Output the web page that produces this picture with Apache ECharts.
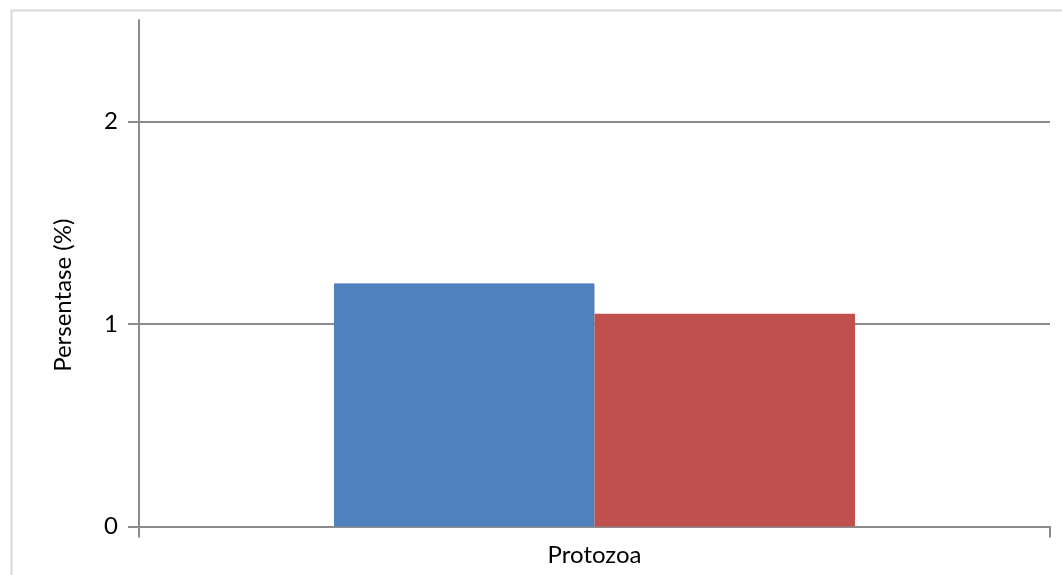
<!DOCTYPE html>
<html>
<head>
<meta charset="utf-8">
<script src="https://cdn.jsdelivr.net/npm/echarts@6/dist/echarts.min.js"></script>
<style>
html,body{margin:0;padding:0;background:#fff;}
#chart{width:1062px;height:575px;}
</style>
</head>
<body>
<div id="chart"></div>
<script>
const categories = ['Protozoa'];
const seriesA = [1.2];
const seriesB = [1.05];
const yTicks = [0, 1, 2];

const chart = echarts.init(document.getElementById('chart'));
const axisColor = '#8c8c8c';
chart.setOption({
  animation: false,
  textStyle: { fontFamily: 'Lato' },
  graphic: [{
    type: 'rect', left: 9, top: 8, shape: { width: 1100, height: 620 },
    style: { fill: 'none', stroke: '#d9d9d9', lineWidth: 2 }, silent: true, z: -10
  }],
  grid: { left: 139, right: 12, top: 20, bottom: 48.5 },
  xAxis: {
    type: 'category',
    data: categories,
    axisLine: { lineStyle: { color: axisColor, width: 2 } },
    axisTick: { show: true, length: 11, lineStyle: { color: axisColor, width: 2 } },
    axisLabel: { color: '#000', fontSize: 24, margin: 17, fontFamily: 'Lato' }
  },
  yAxis: {
    type: 'value',
    min: 0, max: 2.5, interval: 1,
    name: 'Persentase (%)',
    nameLocation: 'middle',
    nameGap: 64,
    nameTextStyle: { color: '#000', fontSize: 24, fontFamily: 'Lato', padding: [0, 44, 0, 0] },
    axisLine: { show: true, lineStyle: { color: axisColor, width: 2 } },
    axisTick: { show: true, length: 11, customValues: yTicks, lineStyle: { color: axisColor, width: 2 } },
    axisLabel: { color: '#000', fontSize: 24, margin: 21, customValues: yTicks, fontFamily: 'Lato' },
    splitLine: { show: true, lineStyle: { color: axisColor, width: 2 } }
  },
  series: [
    { type: 'bar', data: seriesA, barWidth: '28.6%', barGap: '0%', itemStyle: { color: '#4F81BD', borderColor: '#4F81BD', borderWidth: 1 } },
    { type: 'bar', data: seriesB, barWidth: '28.6%', barGap: '0%', itemStyle: { color: '#C0504D' } }
  ]
});
</script>
</body>
</html>
